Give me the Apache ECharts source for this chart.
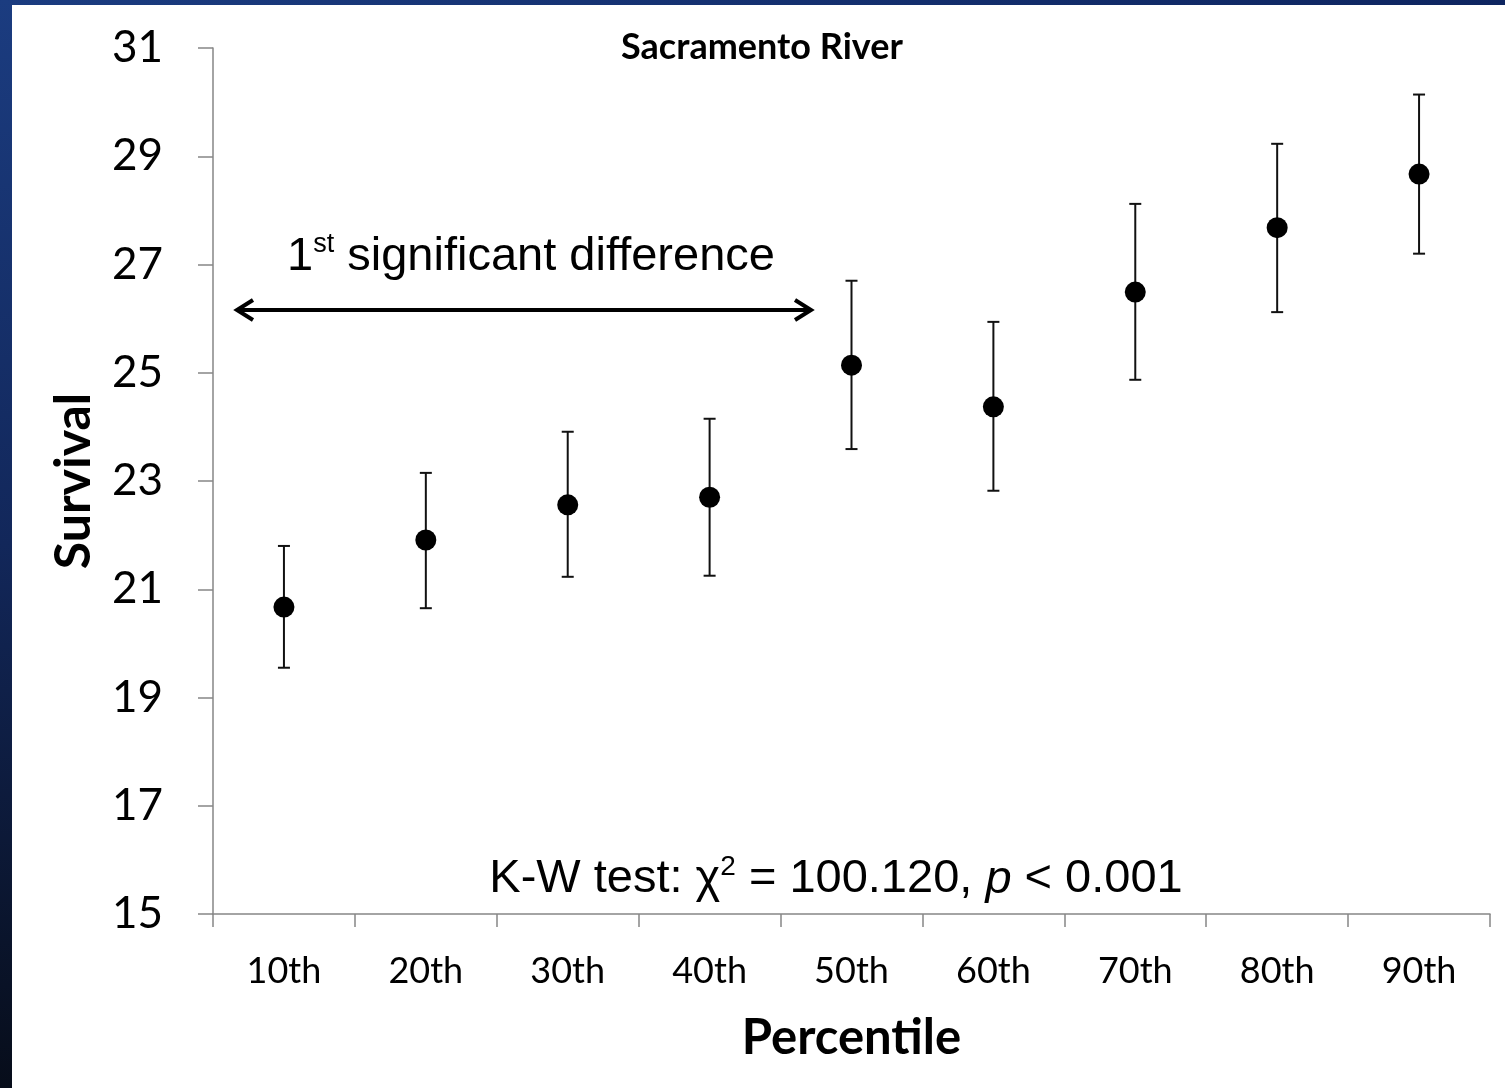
<!DOCTYPE html>
<html><head><meta charset="utf-8">
<script src="https://cdn.jsdelivr.net/npm/echarts@6/dist/echarts.min.js"></script>
<style>html,body{margin:0;padding:0;background:#fff}#c{width:1505px;height:1088px}</style>
</head><body><div id="c"></div>
<script>
const categories = ['10th','20th','30th','40th','50th','60th','70th','80th','90th'];
const means = [20.67, 21.91, 22.56, 22.70, 25.14, 24.37, 26.49, 27.68, 28.67];
const upper = [21.80, 23.15, 23.91, 24.15, 26.70, 25.94, 28.12, 29.23, 30.14];
const lower = [19.55, 20.65, 21.23, 21.25, 23.59, 22.82, 24.87, 26.12, 27.20];
const yMin = 15, yMax = 31, yStep = 2;

const chart = echarts.init(document.getElementById('c'), null, {renderer: 'canvas'});
const axisGray = '#868686';
const calib = 'Lato, "Open Sans", sans-serif';
const arial = '"Liberation Sans", Arial, sans-serif';

const errData = categories.map((c, i) => [i, lower[i], upper[i]]);

chart.setOption({
  backgroundColor: '#ffffff',
  animation: false,
  grid: {left: 213, right: 15, top: 48, bottom: 174, containLabel: false},
  xAxis: {
    type: 'category', data: categories, boundaryGap: true,
    axisLine: {lineStyle: {color: axisGray, width: 1.5}},
    axisTick: {show: true, length: 13, lineStyle: {color: axisGray, width: 1.5}},
    axisLabel: {color: '#000', fontFamily: calib, fontSize: 36, margin: 39},
    name: 'Percentile', nameLocation: 'middle', nameGap: 100,
    nameTextStyle: {color: '#000', fontFamily: calib, fontSize: 49, fontWeight: 'bold'}
  },
  yAxis: {
    type: 'value', min: yMin, max: yMax, interval: yStep,
    splitLine: {show: false},
    axisLine: {show: true, lineStyle: {color: axisGray, width: 1.5}},
    axisTick: {show: true, length: 15, lineStyle: {color: axisGray, width: 1.5}},
    axisLabel: {color: '#000', fontFamily: calib, fontSize: 44, margin: 50},
    name: 'Survival', nameLocation: 'middle', nameGap: 114,
    nameTextStyle: {color: '#000', fontFamily: calib, fontSize: 50, fontWeight: 'bold'}
  },
  series: [
    {
      type: 'custom',
      data: errData,
      z: 2,
      renderItem: function (params, api) {
        const x = api.value(0);
        const lo = api.coord([x, api.value(1)]);
        const hi = api.coord([x, api.value(2)]);
        const hw = 6;
        const st = {stroke: '#111', lineWidth: 2};
        return {type: 'group', children: [
          {type: 'line', shape: {x1: lo[0], y1: lo[1], x2: hi[0], y2: hi[1]}, style: st},
          {type: 'line', shape: {x1: lo[0]-hw, y1: lo[1], x2: lo[0]+hw, y2: lo[1]}, style: st},
          {type: 'line', shape: {x1: hi[0]-hw, y1: hi[1], x2: hi[0]+hw, y2: hi[1]}, style: st}
        ]};
      }
    },
    {
      type: 'scatter', data: means, symbol: 'circle', symbolSize: 21, z: 3,
      itemStyle: {color: '#000', opacity: 1}
    }
  ],
  graphic: [
    {type: 'rect', shape: {x: 0, y: 0, width: 1505, height: 5}, z: 100,
     style: {fill: new echarts.graphic.LinearGradient(0, 0, 1, 0, [{offset: 0, color: '#1b3c80'}, {offset: 1, color: '#0e2560'}])}},
    {type: 'rect', shape: {x: 0, y: 0, width: 12, height: 1088}, z: 100,
     style: {fill: new echarts.graphic.LinearGradient(0, 0, 0, 1, [{offset: 0, color: '#1b3c80'}, {offset: 0.5, color: '#12275a'}, {offset: 1, color: '#070d1a'}])}},
    {type: 'text', x: 762, y: 47, z: 50,
     style: {text: 'Sacramento River', fill: '#000', font: 'bold 36px ' + calib, align: 'center', verticalAlign: 'middle'}},
    {type: 'text', x: 531, y: 256, z: 50,
     style: {
       text: '{a|1}{s|st}{a| significant difference}',
       align: 'center', verticalAlign: 'middle',
       rich: {
         a: {fontSize: 47, fontFamily: arial, fill: '#000', lineHeight: 50, verticalAlign: 'bottom'},
         s: {fontSize: 27, fontFamily: arial, fill: '#000', lineHeight: 50, verticalAlign: 'top', padding: [0, 0, 16, 0]}
       }
     }},
    {type: 'text', x: 836, y: 878, z: 50,
     style: {
       text: '{a|K-W test: χ}{s|2}{a| = 100.120, }{i|p}{a| < 0.001}',
       align: 'center', verticalAlign: 'middle',
       rich: {
         a: {fontSize: 47, fontFamily: arial, fill: '#000', lineHeight: 50, verticalAlign: 'bottom'},
         i: {fontSize: 47, fontFamily: arial, fill: '#000', fontStyle: 'italic', lineHeight: 50, verticalAlign: 'bottom'},
         s: {fontSize: 28, fontFamily: arial, fill: '#000', lineHeight: 50, verticalAlign: 'top', padding: [0, 0, 16, 0]}
       }
     }},
    {type: 'polyline', z: 50, shape: {points: [[238, 310], [810, 310]]}, style: {stroke: '#000', lineWidth: 4, fill: null}},
    {type: 'polyline', z: 50, shape: {points: [[253, 300], [237, 310], [253, 320]]}, style: {stroke: '#000', lineWidth: 4, fill: null, lineJoin: 'miter'}},
    {type: 'polyline', z: 50, shape: {points: [[795, 300], [811, 310], [795, 320]]}, style: {stroke: '#000', lineWidth: 4, fill: null, lineJoin: 'miter'}}
  ]
});
</script>
</body></html>
